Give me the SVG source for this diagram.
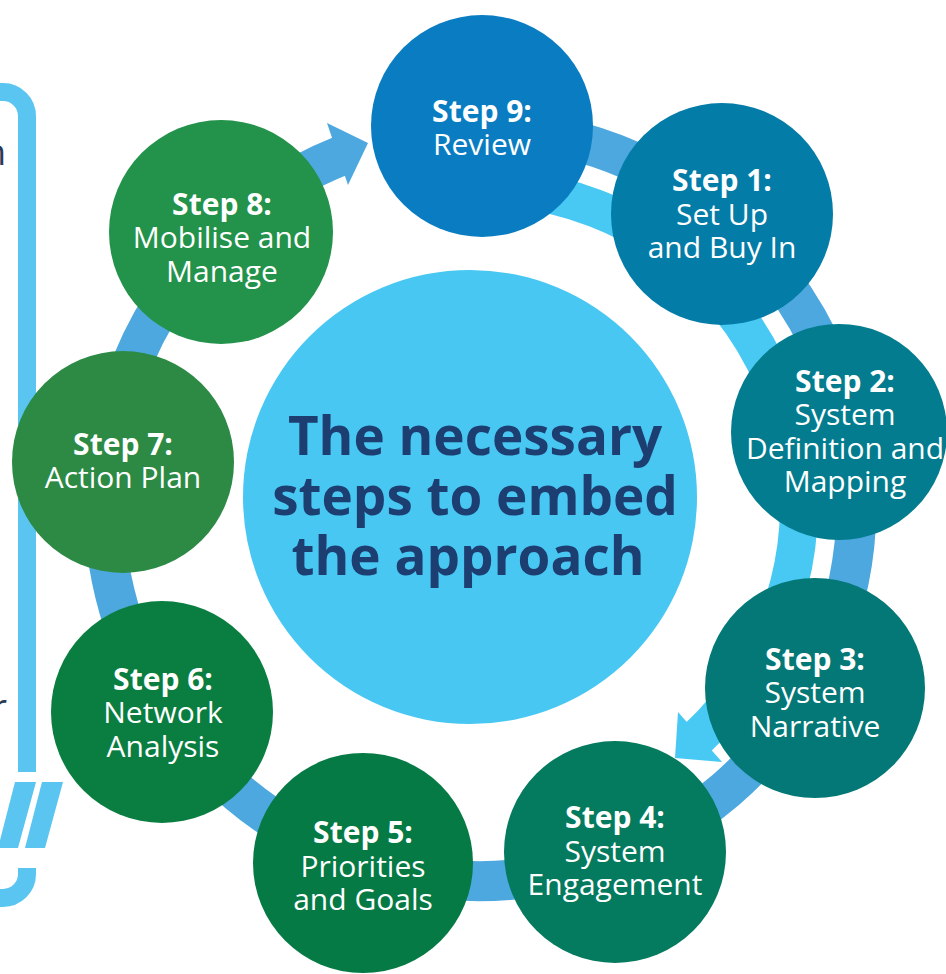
<svg xmlns="http://www.w3.org/2000/svg" width="946" height="974" viewBox="0 0 946 974">
  <style>
    .ring-outer { fill: none; stroke: #4DA8DF; stroke-width: 40; }
    .ring-inner { fill: none; stroke: #48C9F4; stroke-width: 38; }
    .panel { fill: none; stroke: #5BC5F2; stroke-width: 18; }
    .label { font-family: "Open Sans", "Noto Sans", "Liberation Sans", sans-serif; font-size: 30px; fill: #FFFFFF; text-anchor: middle; }
    .label .b { font-weight: bold; }
    .title { font-family: "Open Sans", "Noto Sans", "Liberation Sans", sans-serif; font-size: 53px; font-weight: bold; fill: #1D3E70; text-anchor: middle; }
    .side { font-family: "Open Sans", "Noto Sans", "Liberation Sans", sans-serif; font-size: 36px; fill: #2B3A55; text-anchor: end; }
  </style>

  <rect x="0" y="0" width="946" height="974" fill="#FFFFFF"/>

  <!-- side panel frame -->
  <g id="side-panel">
    <path class="panel" d="M -50 92 H 3 A 24 24 0 0 1 27 116 V 772"/>
    <path class="panel" d="M 27 868 V 874 A 24 24 0 0 1 3 898 H -50"/>
    <polygon points="42,782 63,782 45,848 25,848" fill="#5BC5F2"/>
    <polygon points="15,782 36,782 18,848 -2,848" fill="#5BC5F2"/>
    <text class="side" x="6" y="165">n</text>
    <text class="side" x="7" y="720">r</text>
  </g>

  <!-- cycle connectors -->
  <g id="connectors">
    <path class="ring-outer" d="M 481 129 A 376 376 0 1 1 342.0 155.4"/>
    <polygon points="327,123 368,143 348,185" fill="#4DA8DF"/>
    <path class="ring-inner" d="M 508.7 188.2 A 318 318 0 0 1 695.8 739.5"/>
    <polygon points="678,712 675,758 722,762" fill="#48C9F4"/>
  </g>

  <!-- central hub -->
  <g id="hub">
    <circle cx="470" cy="497" r="227" fill="#48C7F3"/>
    <text class="title" x="475" y="455">The necessary</text>
    <text class="title" x="475" y="515">steps to embed</text>
    <text class="title" x="468" y="575">the approach</text>
  </g>

  <g id="step9">
    <circle cx="482" cy="126" r="111" fill="#0A7DC2"/>
    <text class="label" x="482"><tspan class="b" x="482" y="122">Step 9:</tspan><tspan x="482" y="155">Review</tspan></text>
  </g>

  <g id="step1">
    <circle cx="722" cy="214" r="111" fill="#047CA8"/>
    <text class="label"><tspan class="b" x="722" y="191">Step 1:</tspan><tspan x="722" y="225">Set Up</tspan><tspan x="722" y="258">and Buy In</tspan></text>
  </g>

  <g id="step2">
    <circle cx="839" cy="432" r="108" fill="#027C8E"/>
    <text class="label"><tspan class="b" x="845" y="392">Step 2:</tspan><tspan x="845" y="425">System</tspan><tspan x="845" y="459">Definition and</tspan><tspan x="845" y="492">Mapping</tspan></text>
  </g>

  <g id="step3">
    <circle cx="815" cy="688" r="110" fill="#047876"/>
    <text class="label"><tspan class="b" x="815" y="670">Step 3:</tspan><tspan x="815" y="703">System</tspan><tspan x="815" y="737">Narrative</tspan></text>
  </g>

  <g id="step4">
    <circle cx="615" cy="852" r="111" fill="#047A5E"/>
    <text class="label"><tspan class="b" x="615" y="828">Step 4:</tspan><tspan x="615" y="862">System</tspan><tspan x="615" y="895">Engagement</tspan></text>
  </g>

  <g id="step5">
    <circle cx="363" cy="863" r="110" fill="#057A45"/>
    <text class="label"><tspan class="b" x="363" y="843">Step 5:</tspan><tspan x="363" y="877">Priorities</tspan><tspan x="363" y="910">and Goals</tspan></text>
  </g>

  <g id="step6">
    <circle cx="162" cy="712" r="111" fill="#0A7E40"/>
    <text class="label"><tspan class="b" x="163" y="690">Step 6:</tspan><tspan x="163" y="723">Network</tspan><tspan x="163" y="757">Analysis</tspan></text>
  </g>

  <g id="step7">
    <circle cx="123" cy="462" r="111" fill="#2C8A45"/>
    <text class="label"><tspan class="b" x="123" y="455">Step 7:</tspan><tspan x="123" y="488">Action Plan</tspan></text>
  </g>

  <g id="step8">
    <circle cx="221" cy="232" r="112" fill="#23924A"/>
    <text class="label"><tspan class="b" x="222" y="215">Step 8:</tspan><tspan x="222" y="248">Mobilise and</tspan><tspan x="222" y="282">Manage</tspan></text>
  </g>
</svg>
